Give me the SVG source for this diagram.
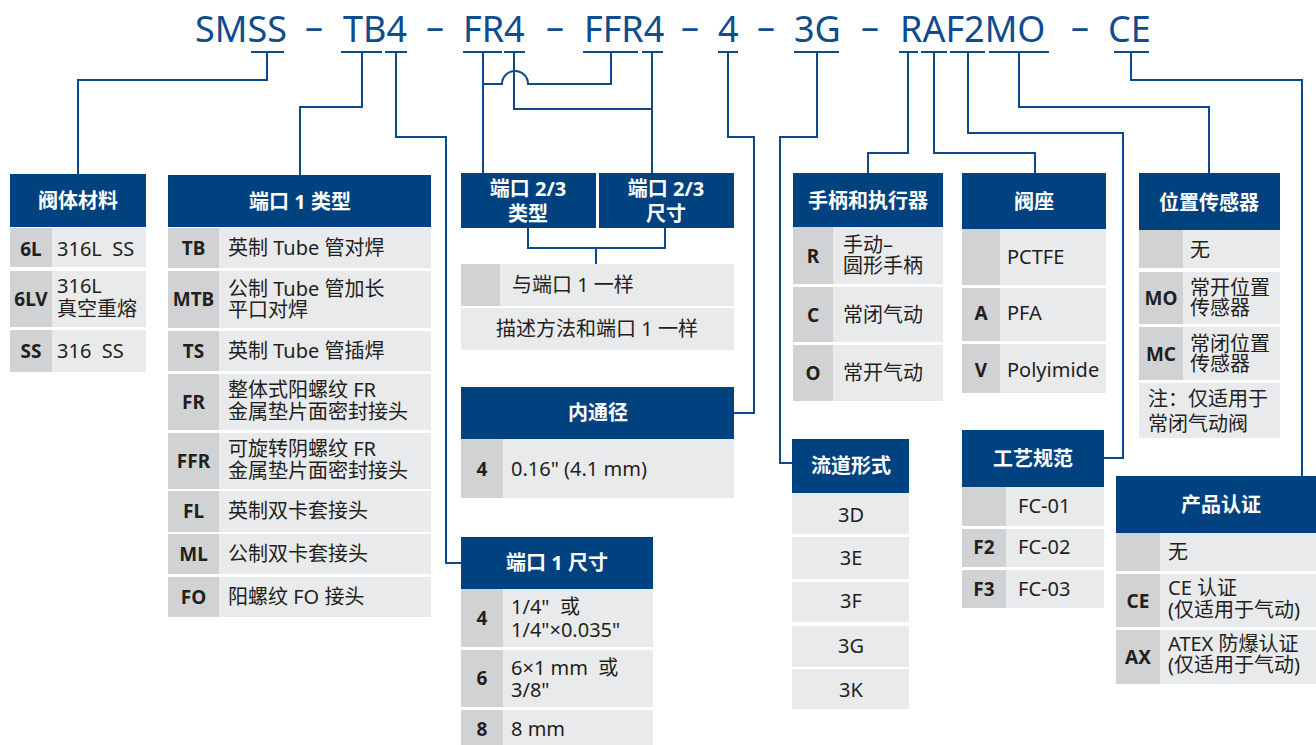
<svg xmlns="http://www.w3.org/2000/svg" width="1316" height="745" viewBox="0 0 1316 745">
<style>
.hb{fill:#00427f}
.cb{fill:#d1d2d4}
.db{fill:#e9eaeb}
.ht{font-family:"Noto Sans","Noto Sans CJK SC",sans-serif;font-size:20px;font-weight:700;fill:#ffffff;text-anchor:middle}
.ct{font-family:"Noto Sans","Noto Sans CJK SC",sans-serif;font-size:19px;font-weight:700;fill:#231f20;text-anchor:middle}
.dt{font-family:"Noto Sans","Noto Sans CJK SC",sans-serif;font-size:20px;fill:#231f20;white-space:pre}
.m{text-anchor:middle}
.ti{font-family:"Noto Sans",sans-serif;font-size:36px;fill:#0f4c8d}
.ln{fill:none;stroke:#0d4a8b;stroke-width:2}
</style>
<rect x="0" y="0" width="1316" height="745" fill="#ffffff"/>

<g id="title">
<text class="ti" x="195" y="42">SMSS</text>
<text class="ti m" x="314" y="39">–</text>
<text class="ti" x="343" y="42">TB4</text>
<text class="ti m" x="435" y="39">–</text>
<text class="ti" x="463" y="42">FR4</text>
<text class="ti m" x="555" y="39">–</text>
<text class="ti" x="584" y="42">FFR4</text>
<text class="ti m" x="690" y="39">–</text>
<text class="ti" x="718" y="42">4</text>
<text class="ti m" x="766" y="39">–</text>
<text class="ti" x="794" y="42">3G</text>
<text class="ti m" x="870" y="39">–</text>
<text class="ti" x="900" y="42">RAF2MO</text>
<text class="ti m" x="1080" y="39">–</text>
<text class="ti" x="1108" y="42">CE</text>
</g>

<g id="connectors" class="ln">
<path d="M251,52H284M341,52H382M385,52H407M463,52H502M504,52H525M583,52H638M642,52H663M718,52H738M794,52H839M899,52H918M921,52H947M950,52H985M989,52H1049M1114,52H1149"/>
<path d="M267,52V80H78V174"/>
<path d="M362,52V107H300V175"/>
<path d="M396,52V137H446V563H461"/>
<path d="M483,52V173"/>
<path d="M611,52V84H528A13,13 0 0 0 502,84H483"/>
<path d="M514,52V109H652"/>
<path d="M652,52V173"/>
<path d="M528,228V248H665V228M596,248V264"/>
<path d="M728,52V137H754V413H734"/>
<path d="M817,52V137H780V463H792"/>
<path d="M908,52V153H868V173"/>
<path d="M934,52V153H1035V173"/>
<path d="M968,52V133H1123V458H1104"/>
<path d="M1019,52V107H1209V173"/>
<path d="M1131,52V80H1302V476"/>
</g>

<g id="body-material">
<rect class="hb" x="10" y="174" width="136" height="53"/>
<text class="ht" x="78" y="208">阀体材料</text>
<rect class="cb" x="10" y="228" width="42" height="39"/><rect class="db" x="52" y="228" width="94" height="39"/>
<text class="ct" x="31" y="256">6L</text><text class="dt" x="57" y="256">316L  SS</text>
<rect class="cb" x="10" y="271" width="42" height="56"/><rect class="db" x="52" y="271" width="94" height="56"/>
<text class="ct" x="31" y="306">6LV</text><text class="dt"><tspan x="57" y="293">316L</tspan><tspan x="57" y="316">真空重熔</tspan></text>
<rect class="cb" x="10" y="330" width="42" height="42"/><rect class="db" x="52" y="330" width="94" height="42"/>
<text class="ct" x="31" y="358">SS</text><text class="dt" x="57" y="358">316  SS</text>
</g>

<g id="port1-type">
<rect class="hb" x="168" y="175" width="263" height="52"/>
<text class="ht" x="300" y="209">端口 1 类型</text>
<rect class="cb" x="168" y="228" width="51" height="40"/><rect class="db" x="219" y="228" width="212" height="40"/>
<text class="ct" x="193.5" y="255">TB</text><text class="dt" x="228" y="255">英制 Tube 管对焊</text>
<rect class="cb" x="168" y="271" width="51" height="57"/><rect class="db" x="219" y="271" width="212" height="57"/>
<text class="ct" x="193.5" y="306">MTB</text><text class="dt"><tspan x="228" y="296">公制 Tube 管加长</tspan><tspan x="228" y="317">平口对焊</tspan></text>
<rect class="cb" x="168" y="331" width="51" height="40"/><rect class="db" x="219" y="331" width="212" height="40"/>
<text class="ct" x="193.5" y="358">TS</text><text class="dt" x="228" y="358">英制 Tube 管插焊</text>
<rect class="cb" x="168" y="374" width="51" height="56"/><rect class="db" x="219" y="374" width="212" height="56"/>
<text class="ct" x="193.5" y="409">FR</text><text class="dt"><tspan x="228" y="397">整体式阳螺纹 FR</tspan><tspan x="228" y="419">金属垫片面密封接头</tspan></text>
<rect class="cb" x="168" y="433" width="51" height="56"/><rect class="db" x="219" y="433" width="212" height="56"/>
<text class="ct" x="193.5" y="468">FFR</text><text class="dt"><tspan x="228" y="456">可旋转阴螺纹 FR</tspan><tspan x="228" y="478">金属垫片面密封接头</tspan></text>
<rect class="cb" x="168" y="491" width="51" height="41"/><rect class="db" x="219" y="491" width="212" height="41"/>
<text class="ct" x="193.5" y="518">FL</text><text class="dt" x="228" y="518">英制双卡套接头</text>
<rect class="cb" x="168" y="534" width="51" height="40"/><rect class="db" x="219" y="534" width="212" height="40"/>
<text class="ct" x="193.5" y="561">ML</text><text class="dt" x="228" y="561">公制双卡套接头</text>
<rect class="cb" x="168" y="577" width="51" height="40"/><rect class="db" x="219" y="577" width="212" height="40"/>
<text class="ct" x="193.5" y="604">FO</text><text class="dt" x="228" y="604">阳螺纹 FO 接头</text>
</g>

<g id="port23-type">
<rect class="hb" x="461" y="173" width="135" height="55"/>
<text class="ht"><tspan x="528" y="196">端口 2/3</tspan><tspan x="528" y="221">类型</tspan></text>
</g>
<g id="port23-size">
<rect class="hb" x="599" y="173" width="135" height="55"/>
<text class="ht"><tspan x="666" y="196">端口 2/3</tspan><tspan x="666" y="221">尺寸</tspan></text>
</g>
<g id="port23-desc">
<rect class="cb" x="461" y="264" width="39" height="42"/><rect class="db" x="500" y="264" width="234" height="42"/>
<text class="dt" x="512" y="292">与端口 1 一样</text>
<rect class="db" x="461" y="308" width="273" height="42"/>
<text class="dt m" x="597" y="336">描述方法和端口 1 一样</text>
</g>

<g id="bore">
<rect class="hb" x="461" y="387" width="273" height="52"/>
<text class="ht" x="598" y="420">内通径</text>
<rect class="cb" x="461" y="439" width="42" height="59"/><rect class="db" x="503" y="439" width="231" height="59"/>
<text class="ct" x="482" y="476">4</text><text class="dt" x="511" y="476">0.16" (4.1 mm)</text>
</g>

<g id="port1-size">
<rect class="hb" x="461" y="537" width="192" height="52"/>
<text class="ht" x="557" y="570">端口 1 尺寸</text>
<rect class="cb" x="461" y="589" width="42" height="58"/><rect class="db" x="503" y="589" width="150" height="58"/>
<text class="ct" x="482" y="625">4</text><text class="dt"><tspan x="511" y="614">1/4"  或</tspan><tspan x="511" y="637">1/4"×0.035"</tspan></text>
<rect class="cb" x="461" y="650" width="42" height="57"/><rect class="db" x="503" y="650" width="150" height="57"/>
<text class="ct" x="482" y="685">6</text><text class="dt"><tspan x="511" y="675">6×1 mm  或</tspan><tspan x="511" y="697">3/8"</tspan></text>
<rect class="cb" x="461" y="710" width="42" height="35"/><rect class="db" x="503" y="710" width="150" height="35"/>
<text class="ct" x="482" y="736">8</text><text class="dt" x="511" y="736">8 mm</text>
</g>

<g id="handle-actuator">
<rect class="hb" x="793" y="173" width="150" height="54"/>
<text class="ht" x="868" y="208">手柄和执行器</text>
<rect class="cb" x="793" y="227" width="40" height="57"/><rect class="db" x="833" y="227" width="110" height="57"/>
<text class="ct" x="813" y="263">R</text><text class="dt"><tspan x="843" y="252">手动–</tspan><tspan x="843" y="273">圆形手柄</tspan></text>
<rect class="cb" x="793" y="287" width="40" height="55"/><rect class="db" x="833" y="287" width="110" height="55"/>
<text class="ct" x="813" y="322">C</text><text class="dt" x="843" y="322">常闭气动</text>
<rect class="cb" x="793" y="345" width="40" height="56"/><rect class="db" x="833" y="345" width="110" height="56"/>
<text class="ct" x="813" y="380">O</text><text class="dt" x="843" y="380">常开气动</text>
</g>

<g id="seat">
<rect class="hb" x="962" y="173" width="144" height="56"/>
<text class="ht" x="1034" y="209">阀座</text>
<rect class="cb" x="962" y="229" width="38" height="56"/><rect class="db" x="1000" y="229" width="106" height="56"/>
<text class="dt" x="1007" y="264">PCTFE</text>
<rect class="cb" x="962" y="288" width="38" height="53"/><rect class="db" x="1000" y="288" width="106" height="53"/>
<text class="ct" x="981" y="320">A</text><text class="dt" x="1007" y="320">PFA</text>
<rect class="cb" x="962" y="344" width="38" height="49"/><rect class="db" x="1000" y="344" width="106" height="49"/>
<text class="ct" x="981" y="377">V</text><text class="dt" x="1007" y="377">Polyimide</text>
</g>

<g id="position-sensor">
<rect class="hb" x="1139" y="173" width="141" height="57"/>
<text class="ht" x="1209" y="210">位置传感器</text>
<rect class="cb" x="1139" y="230" width="44" height="38"/><rect class="db" x="1183" y="230" width="97" height="38"/>
<text class="dt" x="1190" y="257">无</text>
<rect class="cb" x="1139" y="272" width="44" height="52"/><rect class="db" x="1183" y="272" width="97" height="52"/>
<text class="ct" x="1161" y="305">MO</text><text class="dt"><tspan x="1190" y="295">常开位置</tspan><tspan x="1190" y="315">传感器</tspan></text>
<rect class="cb" x="1139" y="327" width="44" height="53"/><rect class="db" x="1183" y="327" width="97" height="53"/>
<text class="ct" x="1161" y="361">MC</text><text class="dt"><tspan x="1190" y="351">常闭位置</tspan><tspan x="1190" y="371">传感器</tspan></text>
<rect class="db" x="1139" y="383" width="141" height="55"/>
<text class="dt"><tspan x="1148" y="406">注：仅适用于</tspan><tspan x="1148" y="431">常闭气动阀</tspan></text>
</g>

<g id="flow-path">
<rect class="hb" x="792" y="439" width="117" height="54"/>
<text class="ht" x="851" y="473">流道形式</text>
<rect class="db" x="792" y="493" width="117" height="41"/><text class="dt m" x="851" y="522">3D</text>
<rect class="db" x="792" y="537" width="117" height="42"/><text class="dt m" x="851" y="565">3E</text>
<rect class="db" x="792" y="582" width="117" height="40"/><text class="dt m" x="851" y="608">3F</text>
<rect class="db" x="792" y="626" width="117" height="41"/><text class="dt m" x="851" y="653">3G</text>
<rect class="db" x="792" y="669" width="117" height="40"/><text class="dt m" x="851" y="697">3K</text>
</g>

<g id="process-spec">
<rect class="hb" x="962" y="430" width="142" height="57"/>
<text class="ht" x="1033" y="466">工艺规范</text>
<rect class="cb" x="962" y="487" width="44" height="39"/><rect class="db" x="1006" y="487" width="98" height="39"/>
<text class="dt" x="1018" y="513">FC-01</text>
<rect class="cb" x="962" y="529" width="44" height="38"/><rect class="db" x="1006" y="529" width="98" height="38"/>
<text class="ct" x="984" y="554">F2</text><text class="dt" x="1018" y="554">FC-02</text>
<rect class="cb" x="962" y="570" width="44" height="38"/><rect class="db" x="1006" y="570" width="98" height="38"/>
<text class="ct" x="984" y="596">F3</text><text class="dt" x="1018" y="596">FC-03</text>
</g>

<g id="certification">
<rect class="hb" x="1116" y="476" width="200" height="57"/>
<text class="ht" x="1221" y="512">产品认证</text>
<rect class="cb" x="1116" y="533" width="44" height="38"/><rect class="db" x="1160" y="533" width="156" height="38"/>
<text class="dt" x="1168" y="559">无</text>
<rect class="cb" x="1116" y="574" width="44" height="53"/><rect class="db" x="1160" y="574" width="156" height="53"/>
<text class="ct" x="1138" y="608">CE</text><text class="dt"><tspan x="1168" y="595">CE 认证</tspan><tspan x="1168" y="617">(仅适用于气动)</tspan></text>
<rect class="cb" x="1116" y="630" width="44" height="54"/><rect class="db" x="1160" y="630" width="156" height="54"/>
<text class="ct" x="1138" y="664">AX</text><text class="dt"><tspan x="1168" y="651">ATEX 防爆认证</tspan><tspan x="1168" y="672">(仅适用于气动)</tspan></text>
</g>
</svg>
